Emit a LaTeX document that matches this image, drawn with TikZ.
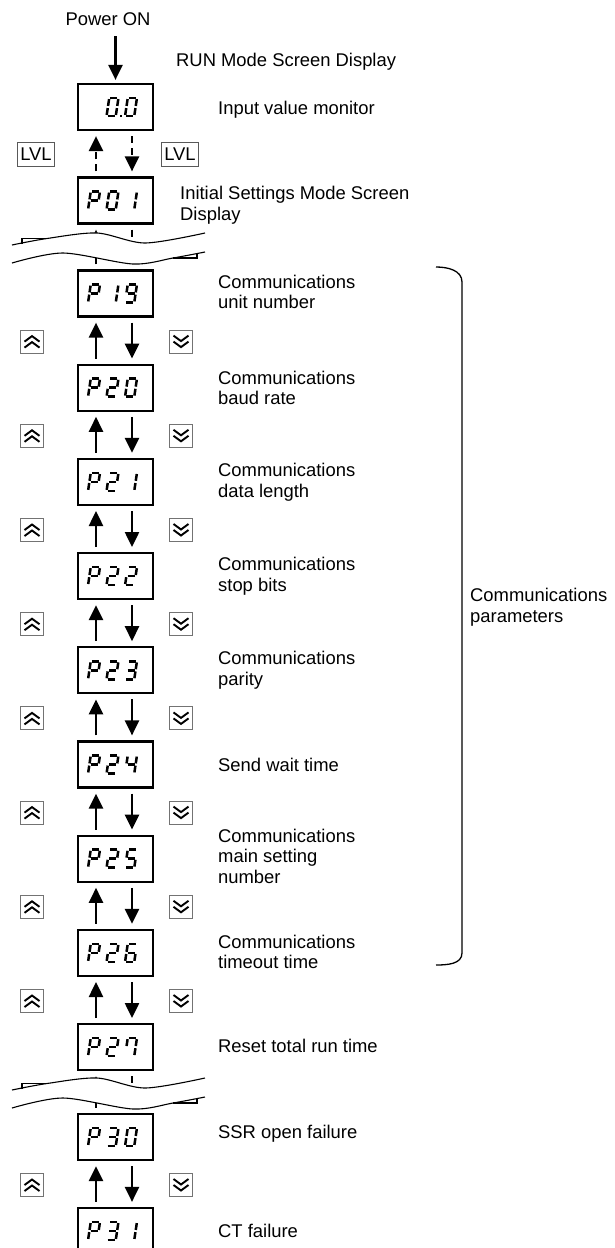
\documentclass[tikz,border=0pt]{standalone}
\usepackage{fontspec}
\setmainfont{Liberation Sans}
\usetikzlibrary{arrows.meta, calc}

\newcommand{\lblfont}{\fontsize{18.4}{20.5}\selectfont}
% seven segment digits as corner pairs
\def\digP{tl/tr,tr/mr,tl/ml,ml/mr,ml/bl}
\def\digZero{tl/tr,tr/mr,mr/br,bl/br,ml/bl,tl/ml}
\def\digOne{tr/mr,mr/br}
\def\digTwo{tl/tr,tr/mr,ml/mr,ml/bl,bl/br}
\def\digThree{tl/tr,tr/mr,ml/mr,mr/br,bl/br}
\def\digFour{tl/ml,ml/mr,tr/mr,mr/br}
\def\digFive{tl/tr,tl/ml,ml/mr,mr/br,bl/br}
\def\digSix{tl/tr,tl/ml,ml/mr,ml/bl,mr/br,bl/br}
\def\digSeven{tl/tr,tl/ml,tr/mr,mr/br}
\def\digNine{tl/tr,tl/ml,tr/mr,ml/mr,mr/br,bl/br}

\newcommand{\segdigit}[3]{%
  \begin{scope}[shift={(#1,#2)}, xslant=0.15]
    \coordinate (tl) at (-4.6,-9); \coordinate (tr) at (4.6,-9);
    \coordinate (ml) at (-4.6,0);  \coordinate (mr) at (4.6,0);
    \coordinate (bl) at (-4.6,9);  \coordinate (br) at (4.6,9);
    \foreach \p/\q in #3 {\draw[seg] (\p) -- (\q);}
  \end{scope}}

\newcommand{\tornband}[1]{%
  \begin{scope}[shift={(0,#1)}]
    \fill[white] plot[smooth] coordinates {(12,21) (47,14.5) (97,9) (145,19) (205,9)}
      -- plot[smooth] coordinates {(205,28) (173,34) (133,40) (63,29) (12,39)} -- cycle;
    \draw[wave] plot[smooth] coordinates {(12,21) (47,14.5) (97,9) (145,19) (205,9)};
    \draw[wave] plot[smooth] coordinates {(12,39) (63,29) (133,40) (173,34) (205,28)};
    \draw[wave] (22,20) |- (47,14.5);
    \draw[wave] (173,34) -| (197,29);
  \end{scope}}

\begin{document}
\begin{tikzpicture}[x=1pt, y=-1pt,
  lcd/.style={draw, line width=2.2pt, minimum width=75pt, minimum height=46pt, inner sep=0pt},
  seg/.style={line width=2.5pt, shorten <=1.1pt, shorten >=1.1pt},
  lbl/.style={anchor=west, align=left, inner sep=0pt, font=\lblfont},
  flow/.style={line width=2.5pt, -{Triangle[width=14pt, length=15pt]}, shorten <=5pt, shorten >=5pt},
  dflow/.style={flow, dash pattern=on 7pt off 5pt},
  keybox/.style={draw=black!55, line width=0.9pt, minimum size=23pt, inner sep=0pt},
  chev/.style={line width=1.9pt},
  lvl/.style={draw=black!65, line width=0.9pt, inner xsep=2.5pt, minimum height=24pt, font=\lblfont},
  wave/.style={line width=1.1pt},
  bracket/.style={line width=1.3pt}
]
  \useasboundingbox (0,0) rectangle (614,1248);

  \node[font=\lblfont] (power) at (108,19) {Power ON};

  \node[lcd] (run) at (115.5,107) {};
  \segdigit{112.5}{107}{\digZero}
  \segdigit{131}{107}{\digZero}
  \fill (119.5,114.5) rectangle ++(2.8,2.8);

  \node[lcd] (p01) at (115.5,200.5) {};
  \segdigit{94}{200.5}{\digP}\segdigit{112.5}{200.5}{\digZero}\segdigit{131}{200.5}{\digOne}
  \node[lcd] (p19) at (115.5,293.5) {};
  \segdigit{94}{293.5}{\digP}\segdigit{112.5}{293.5}{\digOne}\segdigit{131}{293.5}{\digNine}
  \node[lcd] (p20) at (115.5,387.7) {};
  \segdigit{94}{387.7}{\digP}\segdigit{112.5}{387.7}{\digTwo}\segdigit{131}{387.7}{\digZero}
  \node[lcd] (p21) at (115.5,481.9) {};
  \segdigit{94}{481.9}{\digP}\segdigit{112.5}{481.9}{\digTwo}\segdigit{131}{481.9}{\digOne}
  \node[lcd] (p22) at (115.5,576.1) {};
  \segdigit{94}{576.1}{\digP}\segdigit{112.5}{576.1}{\digTwo}\segdigit{131}{576.1}{\digTwo}
  \node[lcd] (p23) at (115.5,670.3) {};
  \segdigit{94}{670.3}{\digP}\segdigit{112.5}{670.3}{\digTwo}\segdigit{131}{670.3}{\digThree}
  \node[lcd] (p24) at (115.5,764.5) {};
  \segdigit{94}{764.5}{\digP}\segdigit{112.5}{764.5}{\digTwo}\segdigit{131}{764.5}{\digFour}
  \node[lcd] (p25) at (115.5,858.7) {};
  \segdigit{94}{858.7}{\digP}\segdigit{112.5}{858.7}{\digTwo}\segdigit{131}{858.7}{\digFive}
  \node[lcd] (p26) at (115.5,952.9) {};
  \segdigit{94}{952.9}{\digP}\segdigit{112.5}{952.9}{\digTwo}\segdigit{131}{952.9}{\digSix}
  \node[lcd] (p27) at (115.5,1047.1) {};
  \segdigit{94}{1047.1}{\digP}\segdigit{112.5}{1047.1}{\digTwo}\segdigit{131}{1047.1}{\digSeven}
  \node[lcd] (p30) at (115.5,1137) {};
  \segdigit{94}{1137}{\digP}\segdigit{112.5}{1137}{\digThree}\segdigit{131}{1137}{\digZero}
  \node[lcd] (p31) at (115.5,1231) {};
  \segdigit{94}{1231}{\digP}\segdigit{112.5}{1231}{\digThree}\segdigit{131}{1231}{\digOne}

  \node[lbl] (lrun) at (176,61.5) {RUN Mode Screen Display};
  \node[lbl] (lmon) at (218,110) {Input value monitor};
  \node[lbl] (linit) at (180,205) {Initial Settings Mode Screen\\Display};
  \node[lbl] (l19) at (218,292) {Communications\\unit number};
  \node[lbl] (l20) at (218,388) {Communications\\baud rate};
  \node[lbl] (l21) at (218,482) {Communications\\data length};
  \node[lbl] (l22) at (218,576) {Communications\\stop bits};
  \node[lbl] (l23) at (218,670) {Communications\\parity};
  \node[lbl] (l24) at (218,765) {Send wait time};
  \node[lbl] (l25) at (218,856) {Communications\\main setting\\number};
  \node[lbl] (l26) at (218,952) {Communications\\timeout time};
  \node[lbl] (l27) at (218,1046) {Reset total run time};
  \node[lbl] (l30) at (218,1134) {SSR open failure};
  \node[lbl] (l31) at (218,1231) {CT failure};
  \node[lbl] (lcomm) at (470,607) {Communications\\parameters};

  \draw[flow, shorten <=7pt, shorten >=3pt] (power.south -| run.north) -- (run.north);

  \node[lvl] (lvlL) at (36,154) {LVL};
  \node[lvl] (lvlR) at (180,154) {LVL};
  \draw[dflow] ([xshift=-19.5pt]p01.north) -- ([xshift=-19.5pt]run.south);
  \draw[dflow] ([xshift=16.5pt]run.south) -- ([xshift=16.5pt]p01.north);

  \foreach \a/\b in {p01/p19, p27/p30} {
    \draw[dflow] ([xshift=-19.5pt]\b.north) -- ([xshift=-19.5pt]\a.south);
    \draw[dflow] ([xshift=16.5pt]\a.south) -- ([xshift=16.5pt]\b.north);
  }
  \tornband{224}
  \tornband{1069}

  \foreach \a/\b in {p19/p20, p20/p21, p21/p22, p22/p23, p23/p24, p24/p25, p25/p26, p26/p27, p30/p31} {
    \draw[flow] ([xshift=-19.5pt]\b.north) -- ([xshift=-19.5pt]\a.south);
    \draw[flow] ([xshift=16.5pt]\a.south) -- ([xshift=16.5pt]\b.north);
    \node[keybox] (up-\a) at ($(\a.south)!0.5!(\b.north) + (-83.5,1)$) {};
    \node[keybox] (dn-\a) at ($(\a.south)!0.5!(\b.north) + (65.5,1)$) {};
    \draw[chev] ([shift={(-7.5,0)}]up-\a.center) -- ++(7.5,-5.5) -- ++(7.5,5.5);
    \draw[chev] ([shift={(-7.5,6)}]up-\a.center) -- ++(7.5,-5.5) -- ++(7.5,5.5);
    \draw[chev] ([shift={(-7.5,-6)}]dn-\a.center) -- ++(7.5,5.5) -- ++(7.5,-5.5);
    \draw[chev] ([shift={(-7.5,0)}]dn-\a.center) -- ++(7.5,5.5) -- ++(7.5,-5.5);
  }

  \draw[bracket] (436,267) to[out=0, in=90] (462,282) -- (462,953) to[out=-90, in=0] (436,965);
\end{tikzpicture}
\end{document}
